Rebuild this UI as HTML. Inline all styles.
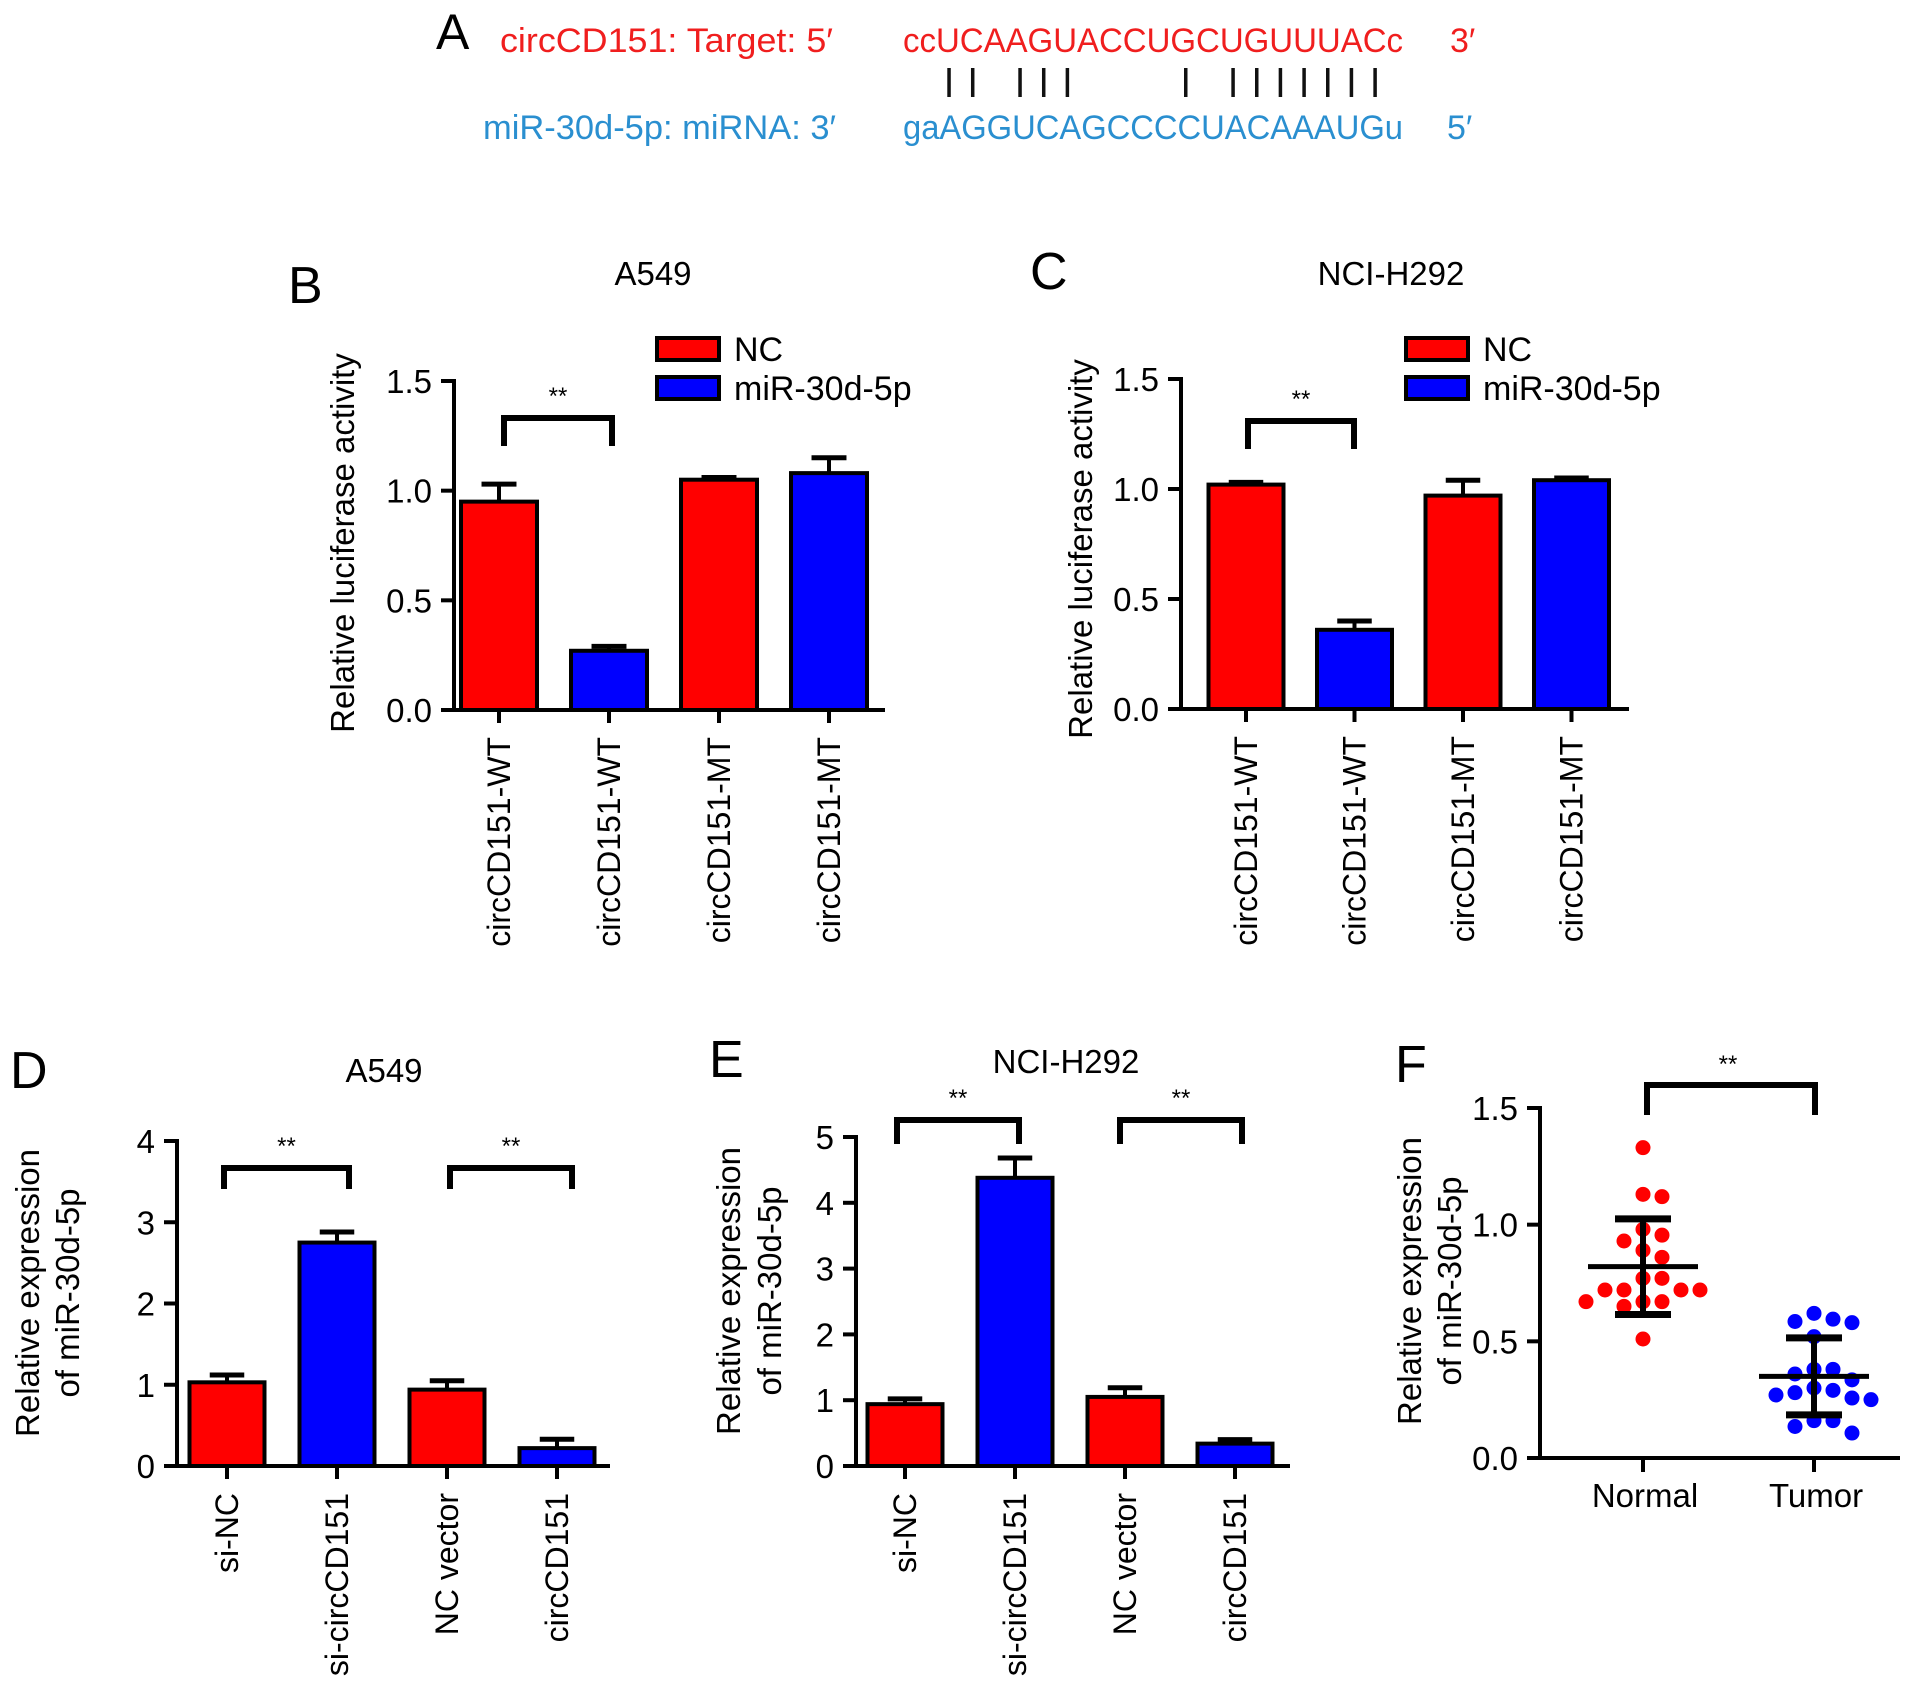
<!DOCTYPE html>
<html><head><meta charset="utf-8"><style>
html,body{margin:0;padding:0;background:#fff;}
svg{display:block;font-family:"Liberation Sans",Arial,sans-serif;}
</style></head><body>
<svg id="fig" width="1913" height="1693" viewBox="0 0 1913 1693" xmlns="http://www.w3.org/2000/svg">
<g>
<text x="436" y="49" font-size="50">A</text>
<text x="500" y="52" font-size="34" fill="#f01e1e" textLength="333" lengthAdjust="spacingAndGlyphs">circCD151:  Target: 5′</text>
<text x="903" y="52" font-size="34" fill="#f01e1e" textLength="500" lengthAdjust="spacingAndGlyphs">ccUCAAGUACCUGCUGUUUACc</text>
<text x="1450" y="52" font-size="34" fill="#f01e1e">3′</text>
<text x="483" y="139" font-size="34" fill="#2a8fd0" textLength="353" lengthAdjust="spacingAndGlyphs">miR-30d-5p:  miRNA: 3′</text>
<text x="903" y="139" font-size="34" fill="#2a8fd0" textLength="500" lengthAdjust="spacingAndGlyphs">gaAGGUCAGCCCCUACAAAUGu</text>
<text x="1447" y="139" font-size="34" fill="#2a8fd0">5′</text>
<g id="pairs"></g>
</g>
</svg>
<script>
// Panel B data
const bCats=["circCD151-WT","circCD151-WT","circCD151-MT","circCD151-MT"];
const bVals=[0.95,0.27,1.05,1.08];
const bErr=[0.08,0.02,0.01,0.07];
// Panel C data
const cCats=["circCD151-WT","circCD151-WT","circCD151-MT","circCD151-MT"];
const cVals=[1.02,0.36,0.97,1.04];
const cErr=[0.01,0.04,0.07,0.01];
// Panel D data
const dCats=["si-NC","si-circCD151","NC vector","circCD151"];
const dVals=[1.03,2.75,0.94,0.22];
const dErr=[0.09,0.13,0.11,0.11];
// Panel E data
const eCats=["si-NC","si-circCD151","NC vector","circCD151"];
const eVals=[0.94,4.38,1.05,0.34];
const eErr=[0.08,0.30,0.14,0.06];
const barColors=["#ff0000","#0000ff","#ff0000","#0000ff"];
const luciferaseTicks=["0.0","0.5","1.0","1.5"];
const dTicks=["0","1","2","3","4"];
const eTicks=["0","1","2","3","4","5"];
// Panel F data
const fCats=["Normal","Tumor"];
const fNormal=[1.33,1.13,1.12,0.955,0.98,0.93,0.89,0.86,0.77,0.77,0.72,0.72,0.72,0.72,0.67,0.65,0.67,0.67,0.51];
const fTumor=[0.62,0.585,0.58,0.595,0.52,0.38,0.38,0.335,0.36,0.30,0.27,0.28,0.29,0.257,0.25,0.16,0.16,0.135,0.107];
const fMean=[0.82,0.35];
const fSD=[0.205,0.165];
const fTicks=["0.0","0.5","1.0","1.5"];
// Base-pair positions (sequence index of paired bases)
const pairIdx=[2,3,5,6,7,12,14,15,16,17,18,19,20];

const NS="http://www.w3.org/2000/svg";
const svg=document.getElementById('fig');
function el(tag,attrs,parent,txt){const e=document.createElementNS(NS,tag);for(const k in attrs)e.setAttribute(k,attrs[k]);if(txt!==undefined)e.textContent=txt;(parent||svg).appendChild(e);return e;}

const pg=document.getElementById('pairs');
pairIdx.forEach(i=>{
  const x=901.7+i*23.67;
  const l=el('line',{x1:x,x2:x,y1:68,y2:97,stroke:'#111','stroke-width':3.5},pg);
  
  
});

const FS=33;
function barChart(o){
  const g=el('g',{});
  
  
  const ymax=Number(o.ticks[o.ticks.length-1]);
  const Y=v=>o.y0-(v/ymax)*(o.y0-o.yTop);
  const X=i=>o.c0+o.step*i;
  o.vals.forEach((v,i)=>{
    const cx=X(i);
    const eb=el('line',{x1:cx,x2:cx,y1:Y(v),y2:Y(v+o.err[i]),stroke:'#000','stroke-width':4},g);
    
    
    const cap=el('line',{x1:cx-o.bw*0.23,x2:cx+o.bw*0.23,y1:Y(v+o.err[i]),y2:Y(v+o.err[i]),stroke:'#000','stroke-width':5},g);
    
    
    const r=el('rect',{x:cx-o.bw/2,y:Y(v),width:o.bw,height:o.y0-Y(v),fill:barColors[i],stroke:'#000','stroke-width':4},g);
    
    
    const tk=el('line',{x1:cx,x2:cx,y1:o.y0,y2:o.y0+13,stroke:'#000','stroke-width':4},g);
    
    
    const t=el('text',{x:0,y:0,'font-size':32,'text-anchor':'end',transform:`translate(${cx+11},${o.y0+27}) rotate(-90)`},g,o.cats[i]);
    
    
  });
  const ya=el('line',{x1:o.xAxis,x2:o.xAxis,y1:o.yTop-2,y2:o.y0+2,stroke:'#000','stroke-width':4},g);
  
  
  const xa=el('line',{x1:o.xAxis-2,x2:o.xEnd,y1:o.y0,y2:o.y0,stroke:'#000','stroke-width':4},g);
  
  
  o.ticks.forEach(t=>{
    const y=Y(Number(t));
    const l=el('line',{x1:o.xAxis-13,x2:o.xAxis,y1:y,y2:y,stroke:'#000','stroke-width':4},g);
    
    
    const tx=el('text',{x:o.xAxis-22,y:y+12,'font-size':FS,'text-anchor':'end'},g,t);
    
    
  });
  const ti=el('text',{x:o.titleX,y:o.titleY,'font-size':33,'text-anchor':'middle'},g,o.title);
  
  
  const pl=el('text',{x:o.labelX,y:o.labelY,'font-size':52},g,o.label);
  
  
  o.ytitle.forEach((line,k)=>{
    const yt=el('text',{x:0,y:0,'font-size':33,'text-anchor':'middle',transform:`translate(${o.ytX[k]+12},${o.ytY}) rotate(-90)`},g,line);
    
    
  });
  o.brackets.forEach(b=>{
    const x1=b[0], x2=b[1];
    const p=el('path',{d:`M${x1},${o.brBot} V${o.brTop} H${x2} V${o.brBot}`,fill:'none',stroke:'#000','stroke-width':6},g);
    
    
    const s=el('text',{x:(x1+x2)/2,y:o.brTop-14,'font-size':24,'text-anchor':'middle'},g,'**');
    
    
  });
  if(o.legend){
    o.legend.forEach((name,k)=>{
      const y=o.legY+k*39;
      const r=el('rect',{x:o.legX,y:y,width:62,height:22,fill:barColors[k],stroke:'#000','stroke-width':4},g);
      
      
      const t=el('text',{x:o.legX+77,y:y+23,'font-size':34},g,name);
      
      
    });
  }
}

barChart({name:'panel-b-chart',cats:bCats,vals:bVals,err:bErr,ticks:luciferaseTicks,xAxis:454,xEnd:885,c0:499,step:110,bw:76,y0:710,yTop:381,
  title:'A549',titleX:653,titleY:285,label:'B',labelX:288,labelY:303,ytitle:['Relative luciferase activity'],ytX:[342],ytY:543,
  brackets:[[504,612]],brTop:418,brBot:446,legend:['NC','miR-30d-5p'],legX:657,legY:338});
barChart({name:'panel-c-chart',cats:cCats,vals:cVals,err:cErr,ticks:luciferaseTicks,xAxis:1181,xEnd:1629,c0:1246,step:108.5,bw:75,y0:709,yTop:379,
  title:'NCI-H292',titleX:1391,titleY:285,label:'C',labelX:1030,labelY:289,ytitle:['Relative luciferase activity'],ytX:[1080],ytY:549,
  brackets:[[1248,1354]],brTop:421,brBot:449,legend:['NC','miR-30d-5p'],legX:1406,legY:338});
barChart({name:'panel-d-chart',cats:dCats,vals:dVals,err:dErr,ticks:dTicks,xAxis:177,xEnd:610,c0:227,step:110,bw:75,y0:1466,yTop:1141,
  title:'A549',titleX:384,titleY:1082,label:'D',labelX:10,labelY:1088,ytitle:['Relative expression','of miR-30d-5p'],ytX:[27,67],ytY:1293,
  brackets:[[224,349],[450,572]],brTop:1168,brBot:1189,legend:null});
barChart({name:'panel-e-chart',cats:eCats,vals:eVals,err:eErr,ticks:eTicks,xAxis:856,xEnd:1290,c0:905,step:110,bw:75,y0:1466,yTop:1137,
  title:'NCI-H292',titleX:1066,titleY:1073,label:'E',labelX:709,labelY:1077,ytitle:['Relative expression','of miR-30d-5p'],ytX:[728,769],ytY:1291,
  brackets:[[897,1019],[1120,1242]],brTop:1120,brBot:1144,legend:null});

// Panel F scatter
(function(){
  const g=el('g',{});
  
  
  const xAxis=1540,xEnd=1900,y0=1458,yTop=1108;
  const ymax=Number(fTicks[fTicks.length-1]);
  const Y=v=>y0-(v/ymax)*(y0-yTop);
  const X=i=>1643+i*171;
  const groups=[fNormal,fTumor];
  const colors=['#ff0000','#0000ff'];
  groups.forEach((vals,gi)=>{
    const placed=[];
    const order=vals.map((v,i)=>i).sort((a,b)=>vals[b]-vals[a]);
    order.forEach(i=>{
      const cy=Y(vals[i]);
      let off=0;
      const cands=[0];
      for(let k=1;k<8;k++){cands.push(k*19,-k*19);}
      for(const c of cands){
        if(placed.every(p=>Math.hypot(p[0]-c,p[1]-cy)>=16)){off=c;break;}
      }
      placed.push([off,cy]);
      const d=el('circle',{cx:X(gi)+off,cy:cy,r:7.5,fill:colors[gi]},g);
      
      
    });
    const m=Y(fMean[gi]),hi=Y(fMean[gi]+fSD[gi]),lo=Y(fMean[gi]-fSD[gi]);
    const ml=el('line',{x1:X(gi)-55,x2:X(gi)+55,y1:m,y2:m,stroke:'#000','stroke-width':5},g);
    
    
    const sl=el('line',{x1:X(gi),x2:X(gi),y1:hi,y2:lo,stroke:'#000','stroke-width':6},g);
    
    
    [hi,lo].forEach(y=>{
      const c=el('line',{x1:X(gi)-28,x2:X(gi)+28,y1:y,y2:y,stroke:'#000','stroke-width':7},g);
      
      
    });
    const tk=el('line',{x1:X(gi),x2:X(gi),y1:y0,y2:y0+14,stroke:'#000','stroke-width':4},g);
    
    
    const t=el('text',{x:X(gi)+2,y:y0+49,'font-size':33,'text-anchor':'middle'},g,fCats[gi]);
    
    
  });
  const ya=el('line',{x1:xAxis,x2:xAxis,y1:yTop-2,y2:y0+2,stroke:'#000','stroke-width':4},g);
  
  
  const xa=el('line',{x1:xAxis-2,x2:xEnd,y1:y0,y2:y0,stroke:'#000','stroke-width':4},g);
  
  
  fTicks.forEach(t=>{
    const y=Y(Number(t));
    const l=el('line',{x1:xAxis-13,x2:xAxis,y1:y,y2:y,stroke:'#000','stroke-width':4},g);
    
    
    const tx=el('text',{x:xAxis-22,y:y+12,'font-size':FS,'text-anchor':'end'},g,t);
    
    
  });
  ['Relative expression','of miR-30d-5p'].forEach((line,k)=>{
    const yt=el('text',{x:0,y:0,'font-size':33,'text-anchor':'middle',transform:`translate(${[1409,1449][k]+12},1281) rotate(-90)`},g,line);
    
    
  });
  const p=el('path',{d:'M1647,1115 V1085 H1815 V1115',fill:'none',stroke:'#000','stroke-width':6},g);
  
  
  const s=el('text',{x:1728,y:1072,'font-size':24,'text-anchor':'middle'},g,'**');
  
  
  const pl=el('text',{x:1395,y:1082,'font-size':52},g,'F');
  
  
})();
</script>
</body></html>
